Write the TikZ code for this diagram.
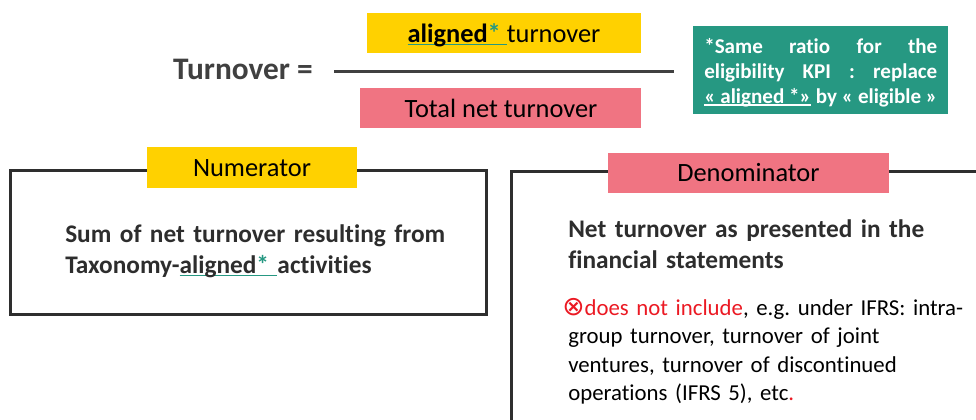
\documentclass[tikz,border=0pt]{standalone}
\usepackage{fontspec}
\setmainfont{Carlito}[Ligatures=NoCommon]
\newfontfamily\symbolfont{DejaVu Sans}
\definecolor{kpiyellow}{RGB}{255,209,0}
\definecolor{kpipink}{RGB}{240,116,130}
\definecolor{kpiteal}{RGB}{38,152,130}
\definecolor{kpidark}{RGB}{64,64,64}
\definecolor{kpitext}{RGB}{45,45,45}
\definecolor{kpiframe}{RGB}{46,46,46}
\definecolor{kpired}{RGB}{235,25,35}
\newlength\kpiwd
\setlength\kpiwd{174.75pt}
% underline in a colour of its own
\newcommand{\colul}[2]{\leavevmode\setbox0\hbox{#2}\rlap{\textcolor{#1}{\rule[-0.13em]{\wd0}{0.06em}}}\box0}
\frenchspacing
\begin{document}
\begin{tikzpicture}[x=0.75pt,y=0.75pt,yscale=-1,xscale=1,
    boxtext/.style={font=\fontsize{19.8pt}{23.5pt}\selectfont, anchor=base, inner sep=0pt},
    bodybold/.style={font=\fontsize{19pt}{23.25pt}\selectfont\bfseries, text=kpitext, text width=330pt, align=left, anchor=base west, inner sep=0pt},
    bodyreg/.style={font=\fontsize{17.1pt}{21.4pt}\selectfont, text=black, text width=330pt, align=left, anchor=base west, inner sep=0pt}]
        \useasboundingbox (0,0) rectangle (976,419);
        % ratio
        \draw (243,79) node (ratiolbl) [font=\fontsize{23.5pt}{27pt}\selectfont\bfseries, text=kpidark, anchor=base, inner sep=0pt] {Turnover =};
        \draw [draw=kpidark, line width=2.6pt] (334,71.5) -- (674,71.5) ;
        \draw  [fill=kpiyellow, draw=none] (367,13) -- (641,13) -- (641,53) -- (367,53) -- cycle ;
        \draw  [fill=kpipink, draw=none] (360,88) -- (641,88) -- (641,128) -- (360,128) -- cycle ;
        \draw (504,42) node (numtop) [boxtext] {\colul{kpiteal}{\textbf{aligned}\textcolor{kpiteal}{\textbf{*}}\ }turnover};
        \draw (501,117) node (dentop) [boxtext] {Total net turnover};
        % note
        \draw  [fill=kpiteal, draw=none] (693,26) -- (948,26) -- (948,114) -- (693,114) -- cycle ;
        \draw (704,53) node (kpinote) [font=\fontsize{15.8pt}{18.75pt}\selectfont\bfseries, text=white, anchor=base west, inner sep=0pt] {\vtop{\hbox to\kpiwd{*Same\hfill ratio\hfill for\hfill the}\hbox to\kpiwd{eligibility\hfill KPI\hfill :\hfill replace}\hbox to\kpiwd{\colul{white}{« aligned *»}\hfill by « eligible »}}};
        % numerator
        \draw  [kpiframe, line width=2.25pt] (10,170) -- (486.5,170) -- (486.5,314.5) -- (10,314.5) -- cycle ;
        \draw  [fill=kpiyellow, draw=none] (147,147) -- (357,147) -- (357,188) -- (147,188) -- cycle ;
        \draw (252,176) node (numlbl) [boxtext] {Numerator};
        \draw (65,242) node (numnote) [bodybold] {Sum of net turnover resulting from\\Taxonomy-\colul{kpiteal}{aligned\textcolor{kpiteal}{*}\ }activities};
        % denominator
        \draw  [kpiframe, line width=2.25pt] (980,171.5) -- (511.5,171.5) -- (511.5,423) ;
        \draw  [fill=kpipink, draw=none] (608,153) -- (889,153) -- (889,193) -- (608,193) -- cycle ;
        \draw (748.5,181) node (denlbl) [boxtext] {Denominator};
        \draw (568,237) node (dennote) [bodybold] {Net turnover as presented in the\\financial statements};
        \draw (568,315) node (denlist) [bodyreg] {\hspace*{-4.5pt}\textcolor{kpired}{{\symbolfont\fontsize{20pt}{21.4pt}\selectfont ⊗}does not include}, e.g. under IFRS: intra-\\group turnover, turnover of joint\\ventures, turnover of discontinued\\operations (IFRS 5), etc\textcolor{kpired}{.}};
    \end{tikzpicture}
\end{document}
